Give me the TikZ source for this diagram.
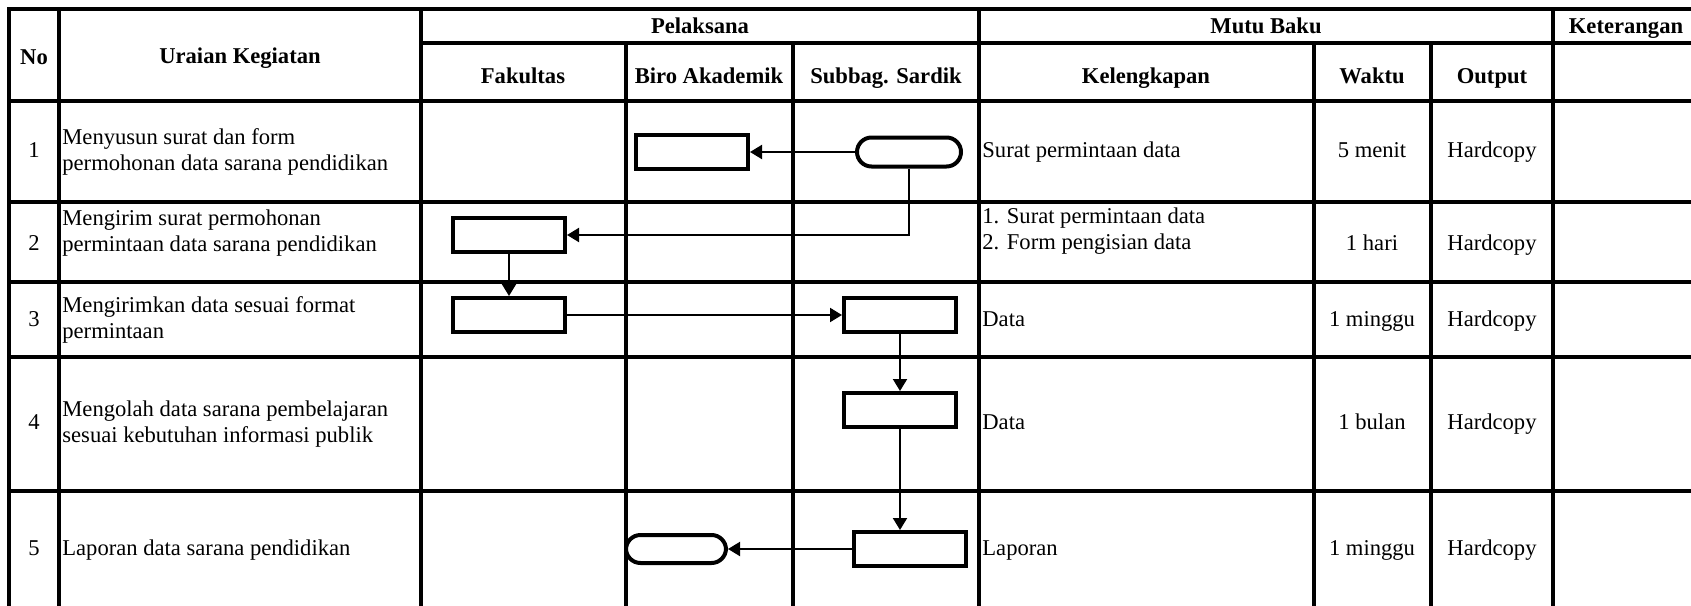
\documentclass[tikz,border=0pt]{standalone}
\usepackage{fontspec}
\setmainfont{Liberation Serif}
\usetikzlibrary{arrows.meta}

\tikzset{
  gridline/.style={line width=2.2pt, line cap=rect},
  procbox/.style={draw, line width=2pt, minimum width=56pt, minimum height=17pt, inner sep=0pt},
  termbox/.style={draw, line width=2pt, rounded corners=7.25pt, minimum width=52pt, minimum height=14.5pt, inner sep=0pt},
  flow/.style={-{Triangle[length=6pt,width=7pt]}, line width=1pt},
  txt/.style={font=\fontsize{11.3}{13.2}\selectfont, inner sep=0pt},
  cell/.style={txt, text height=8pt, text depth=2.5pt},
  head/.style={cell, font=\fontsize{11.3}{13.2}\selectfont\bfseries},
  note/.style={cell, anchor=west},
  desc/.style={txt, anchor=west, align=left},
}

\begin{document}
\begin{tikzpicture}[x=0.5pt, y=-0.5pt]
            \clip (0,0) rectangle (1691,605);
            \fill[white] (0,0) rectangle (1691,605);

            % Table rules
            \draw[gridline] (9,9) -- (1700,9);
            \draw[gridline] (421,43) -- (1700,43);
            \draw[gridline] (9,101) -- (1700,101);
            \draw[gridline] (9,202) -- (1700,202);
            \draw[gridline] (9,282) -- (1700,282);
            \draw[gridline] (9,357) -- (1700,357);
            \draw[gridline] (9,491) -- (1700,491);
            \draw[gridline] (9,9) -- (9,620);
            \draw[gridline] (59,9) -- (59,620);
            \draw[gridline] (421,9) -- (421,620);
            \draw[gridline] (626,43) -- (626,620);
            \draw[gridline] (793,43) -- (793,620);
            \draw[gridline] (979,9) -- (979,620);
            \draw[gridline] (1314,43) -- (1314,620);
            \draw[gridline] (1431,43) -- (1431,620);
            \draw[gridline] (1553,9) -- (1553,620);

            % Header
            \node[head] (no) at (34,59) {No};
            \node[head] (uraian) at (240,58) {Uraian Kegiatan};
            \node[head] (pelaksana) at (700,28) {Pelaksana};
            \node[head] (mutu) at (1266,28) {Mutu Baku};
            \node[head] (ket) at (1626,28) {Keterangan};
            \node[head] (fakultas) at (523,78) {Fakultas};
            \node[head] (biro) at (709,78) {Biro Akademik};
            \node[head] (sardik) at (886,78) {Subbag. Sardik};
            \node[head] (lengkap) at (1146,78) {Kelengkapan};
            \node[head] (waktu) at (1372,78) {Waktu};
            \node[head] (output) at (1492,78) {Output};

            % Row numbers
            \node[cell] (n1) at (34,152) {1};
            \node[cell] (n2) at (34,245) {2};
            \node[cell] (n3) at (34,321) {3};
            \node[cell] (n4) at (34,424) {4};
            \node[cell] (n5) at (34,550) {5};

            % Activities
            \node[desc] (u1) at (62,152) {Menyusun surat dan form\\permohonan data sarana pendidikan};
            \node[desc] (u2) at (62,233) {Mengirim surat permohonan\\permintaan data sarana pendidikan};
            \node[desc] (u3) at (62,320) {Mengirimkan data sesuai format\\permintaan};
            \node[desc] (u4) at (62,424) {Mengolah data sarana pembelajaran\\sesuai kebutuhan informasi publik};
            \node[note] (u5) at (62,550) {Laporan data sarana pendidikan};

            % Mutu baku
            \node[note] (k1) at (982,152) {Surat permintaan data};
            \node[desc] (k2) at (982,231) {1. Surat permintaan data\\2. Form pengisian data};
            \node[note] (k3) at (982,321) {Data};
            \node[note] (k4) at (982,424) {Data};
            \node[note] (k5) at (982,550) {Laporan};
            \node[cell] (w1) at (1372,152) {5 menit};
            \node[cell] (w2) at (1372,245) {1 hari};
            \node[cell] (w3) at (1372,321) {1 minggu};
            \node[cell] (w4) at (1372,424) {1 bulan};
            \node[cell] (w5) at (1372,550) {1 minggu};
            \node[cell] (o1) at (1492,152) {Hardcopy};
            \node[cell] (o2) at (1492,245) {Hardcopy};
            \node[cell] (o3) at (1492,321) {Hardcopy};
            \node[cell] (o4) at (1492,424) {Hardcopy};
            \node[cell] (o5) at (1492,550) {Hardcopy};

            % Flow nodes
            \node[termbox] (t1) at (909,152) {};
            \node[procbox] (b1) at (692,152) {};
            \node[procbox] (f2) at (509,235) {};
            \node[procbox] (f3) at (509,315) {};
            \node[procbox] (s3) at (900,315) {};
            \node[procbox] (s4) at (900,410) {};
            \node[procbox] (s5) at (910,549) {};
            \node[termbox, minimum width=50pt, minimum height=14pt] (t5) at (676,549) {};

            % Flow
            \draw[flow] (t1) -- (b1);
            \draw[flow] (t1.south) |- (f2.east);
            \draw[flow] (f2) -- (f3);
            \draw[flow] (f3) -- (s3);
            \draw[flow] (s3) -- (s4);
            \draw[flow] (s4.south) -- (s4.south |- s5.north);
            \draw[flow] (s5) -- (t5);
\end{tikzpicture}
\end{document}
